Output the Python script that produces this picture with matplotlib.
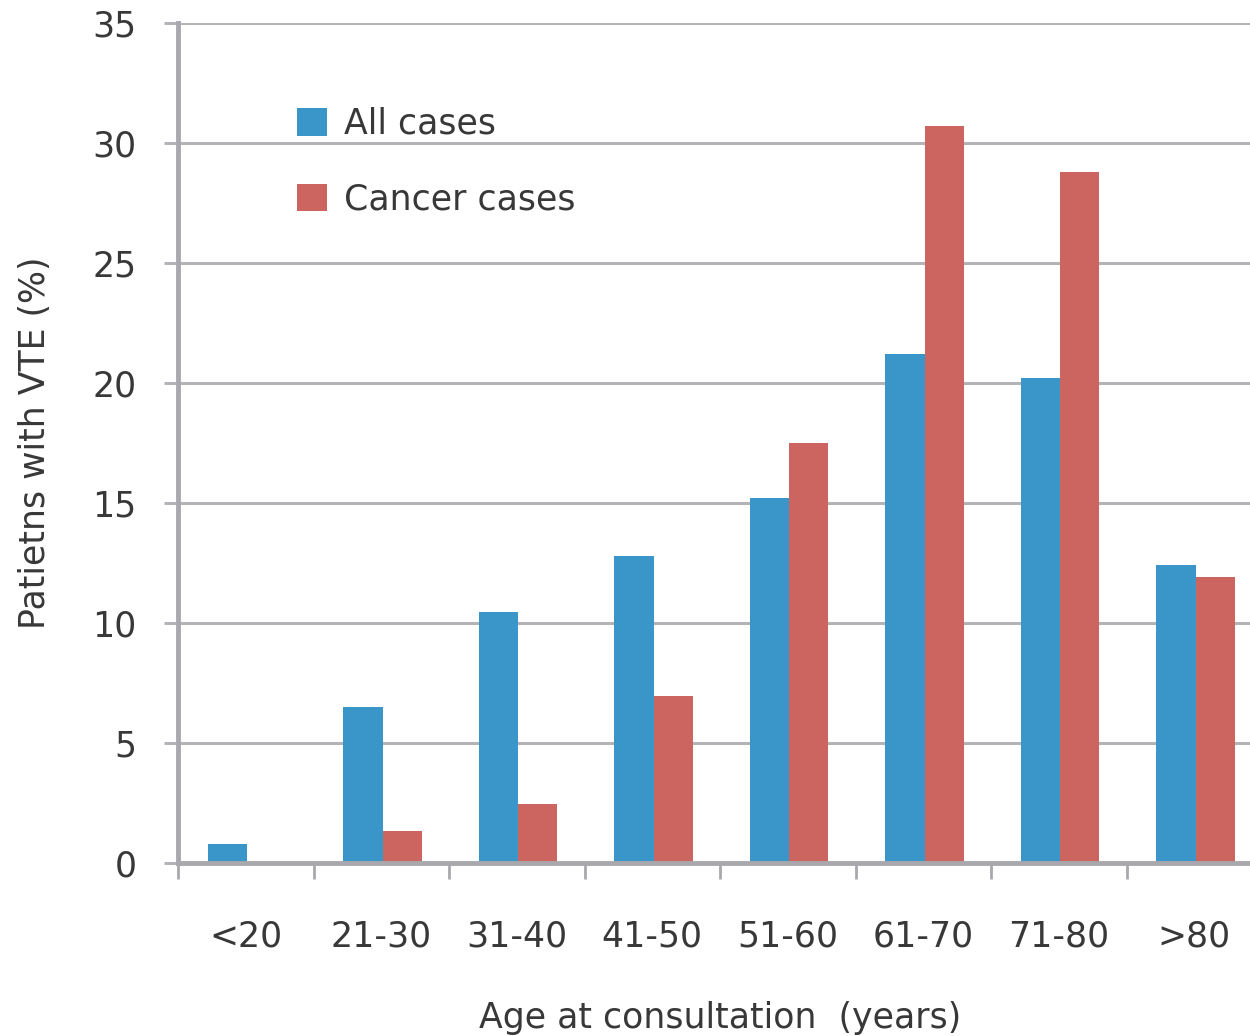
import numpy as np
import matplotlib.pyplot as plt

categories = ["<20", "21-30", "31-40", "41-50", "51-60", "61-70", "71-80", ">80"]
all_cases = [0.8, 6.5, 10.45, 12.8, 15.2, 21.2, 20.2, 12.4]
cancer_cases = [0, 1.35, 2.45, 6.95, 17.5, 30.7, 28.8, 11.9]

plt.rcParams['font.family'] = ['DejaVu Sans']
txt = '#383838'
axc = '#a8a8ad'
fs = 25

fig = plt.figure(figsize=(12.5, 10.36), dpi=100)
ax = fig.add_axes([178/1250, 1 - 863/1036, 1084/1250, (863 - 22.7)/1036])

x = np.arange(len(categories))
w = 0.29
ax.bar(x - w/2 + 0.01, all_cases, w, color='#3a95c9', label='All cases', zorder=3)
ax.bar(x + w/2 + 0.01, cancer_cases, w, color='#cc6460', label='Cancer cases', zorder=3)

ax.set_xlim(-0.5, len(categories) - 0.5)
ax.set_ylim(0, 35)
ax.set_yticks(range(0, 36, 5))
ax.yaxis.grid(True, color='#b4b4b8', linewidth=2.2, zorder=0)

ax.set_xticks(x - 0.5, minor=False)
ax.set_xticklabels([])
ax.set_xticks(x, minor=True)
ax.set_xticklabels(categories, minor=True)
ax.tick_params(axis='x', which='major', direction='out', length=11.5, width=2, color=axc)
ax.tick_params(axis='x', which='minor', length=0, pad=41, labelsize=fs, labelcolor=txt)
ax.tick_params(axis='y', direction='out', length=10, width=2.2, color='#b4b4b8',
               pad=20, labelsize=fs, labelcolor=txt)

for s in ['top', 'right']:
    ax.spines[s].set_visible(False)
for s in ['left', 'bottom']:
    ax.spines[s].set_color(axc)
    ax.spines[s].set_linewidth(3.5)
    ax.spines[s].set_zorder(4)

ax.set_ylabel("Patietns with VTE (%)", fontsize=fs, color=txt, labelpad=29)
ax.set_xlabel("Age at consultation  (years)", fontsize=fs, color=txt, labelpad=34)

leg = ax.legend(loc='upper left', bbox_to_anchor=(0.081, 0.937), frameon=False,
                fontsize=fs, labelcolor=txt, handlelength=0.85, handleheight=0.85,
                handletextpad=0.5, labelspacing=1.2)

fig.savefig("out.png", dpi=100)
